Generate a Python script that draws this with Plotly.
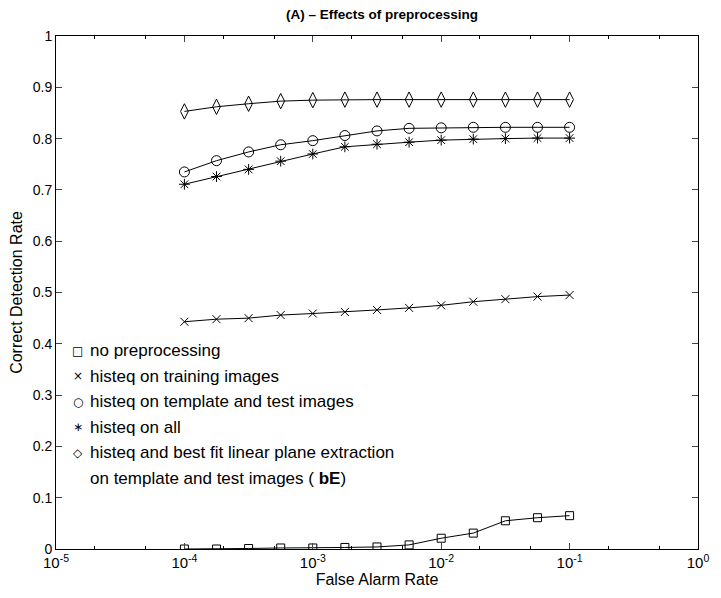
import plotly.graph_objects as go

far = [1e-4, 1.778e-4, 3.162e-4, 5.623e-4, 1e-3, 1.778e-3, 3.162e-3, 5.623e-3,
       1e-2, 1.778e-2, 3.162e-2, 5.623e-2, 1e-1]

no_pre = [0.000, 0.000, 0.001, 0.002, 0.002, 0.003, 0.004, 0.008, 0.021, 0.031, 0.055, 0.061, 0.065]
hist_train = [0.443, 0.448, 0.450, 0.456, 0.459, 0.462, 0.466, 0.470, 0.475, 0.482, 0.487, 0.492, 0.495]
hist_tt = [0.735, 0.757, 0.774, 0.788, 0.796, 0.806, 0.815, 0.820, 0.821, 0.822, 0.822, 0.822, 0.822]
hist_all = [0.711, 0.726, 0.740, 0.756, 0.770, 0.784, 0.789, 0.793, 0.797, 0.799, 0.800, 0.801, 0.801]
hist_bE = [0.853, 0.862, 0.868, 0.873, 0.875, 0.876, 0.876, 0.876, 0.876, 0.876, 0.876, 0.876, 0.876]

legend_lines = ["no preprocessing", "histeq on training images", "histeq on template and test images",
                "histeq on all", "histeq and best fit linear plane extraction",
                "on template and test images ( <b>bE</b>)"]
legend_glyphs = ["□", "×", "○", "∗", "◇", ""]
symbols = ["square-open", "x-thin-open", "circle-open", "asterisk-open", "diamond-tall-open"]
sizes = [8, 8, 10, 9, 11]
series = [no_pre, hist_train, hist_tt, hist_all, hist_bE]

xtickvals = [1e-5, 1e-4, 1e-3, 1e-2, 1e-1, 1]
xticktext = ["10<sup>-5</sup>", "10<sup>-4</sup>", "10<sup>-3</sup>", "10<sup>-2</sup>",
             "10<sup>-1</sup>", "10<sup>0</sup>"]
yticks = [0, 0.1, 0.2, 0.3, 0.4, 0.5, 0.6, 0.7, 0.8, 0.9, 1]
yticktext = ["0", "0.1", "0.2", "0.3", "0.4", "0.5", "0.6", "0.7", "0.8", "0.9", "1"]

fig = go.Figure()
for sym, sz, ys in zip(symbols, sizes, series):
    fig.add_trace(go.Scatter(
        x=far, y=ys, mode="lines+markers", showlegend=False, hoverinfo="skip",
        line=dict(color="black", width=1),
        marker=dict(symbol=sym, size=sz, color="black", line=dict(color="black", width=1)),
    ))
# invisible copy on the top axis so that its (minor) ticks are drawn
fig.add_trace(go.Scatter(x=far, y=hist_bE, xaxis="x2", mode="lines", opacity=0,
                         showlegend=False, hoverinfo="skip"))

# legend drawn as text (MATLAB style, no box)
L, B, PW, PH = 56, 549, 652, 513
line_y0, line_step = 350.5, 25.6
annotations = []
for i, (glyph, txt) in enumerate(zip(legend_glyphs, legend_lines)):
    py = line_y0 + i * line_step
    yp = (B - py) / PH
    if glyph:
        annotations.append(dict(xref="paper", yref="paper", x=(78 - L) / PW, y=yp,
                                text=glyph, showarrow=False, xanchor="center", yanchor="middle",
                                font=dict(family="DejaVu Sans", size=12, color="black")))
    annotations.append(dict(xref="paper", yref="paper", x=(89 - L) / PW, y=yp,
                            text=txt, showarrow=False, xanchor="left", yanchor="middle",
                            font=dict(family="Liberation Sans, Arial, sans-serif", size=17,
                                      color="black")))

axis_common = dict(type="log", range=[-5, 0], tickvals=xtickvals, ticks="inside", ticklen=6,
                   showline=True, linecolor="black", linewidth=1, showgrid=False, zeroline=False,
                   minor=dict(ticks="inside", ticklen=3, showgrid=False, tickcolor="black"))

fig.update_layout(
    width=721, height=598,
    margin=dict(l=56, r=13, t=36, b=49),
    paper_bgcolor="white", plot_bgcolor="white",
    font=dict(family="Liberation Sans, Arial, sans-serif", size=14, color="black"),
    title=dict(text="<b>(A) – Effects of preprocessing</b>", x=(382 / 721), xanchor="center",
               y=1 - 14 / 598, yanchor="middle", font=dict(size=13.5)),
    showlegend=False,
    annotations=annotations,
    xaxis=dict(**axis_common, ticktext=xticktext, tickfont=dict(size=15),
               title=dict(text="False Alarm Rate", standoff=3, font=dict(size=16))),
    xaxis2=dict(**axis_common, overlaying="x", side="top", anchor="y", showticklabels=False),
    yaxis=dict(range=[0, 1], tickvals=yticks, ticktext=yticktext,
               ticks="inside", ticklen=6, mirror="ticks", showline=True, linecolor="black",
               linewidth=1, showgrid=False, zeroline=False, tickfont=dict(size=14),
               title=dict(text="Correct Detection Rate", standoff=6, font=dict(size=16))),
)

fig.write_html("out.html", config={"displayModeBar": False, "staticPlot": True},
               post_script="document.body.style.margin='0';document.body.style.overflow='hidden';")
